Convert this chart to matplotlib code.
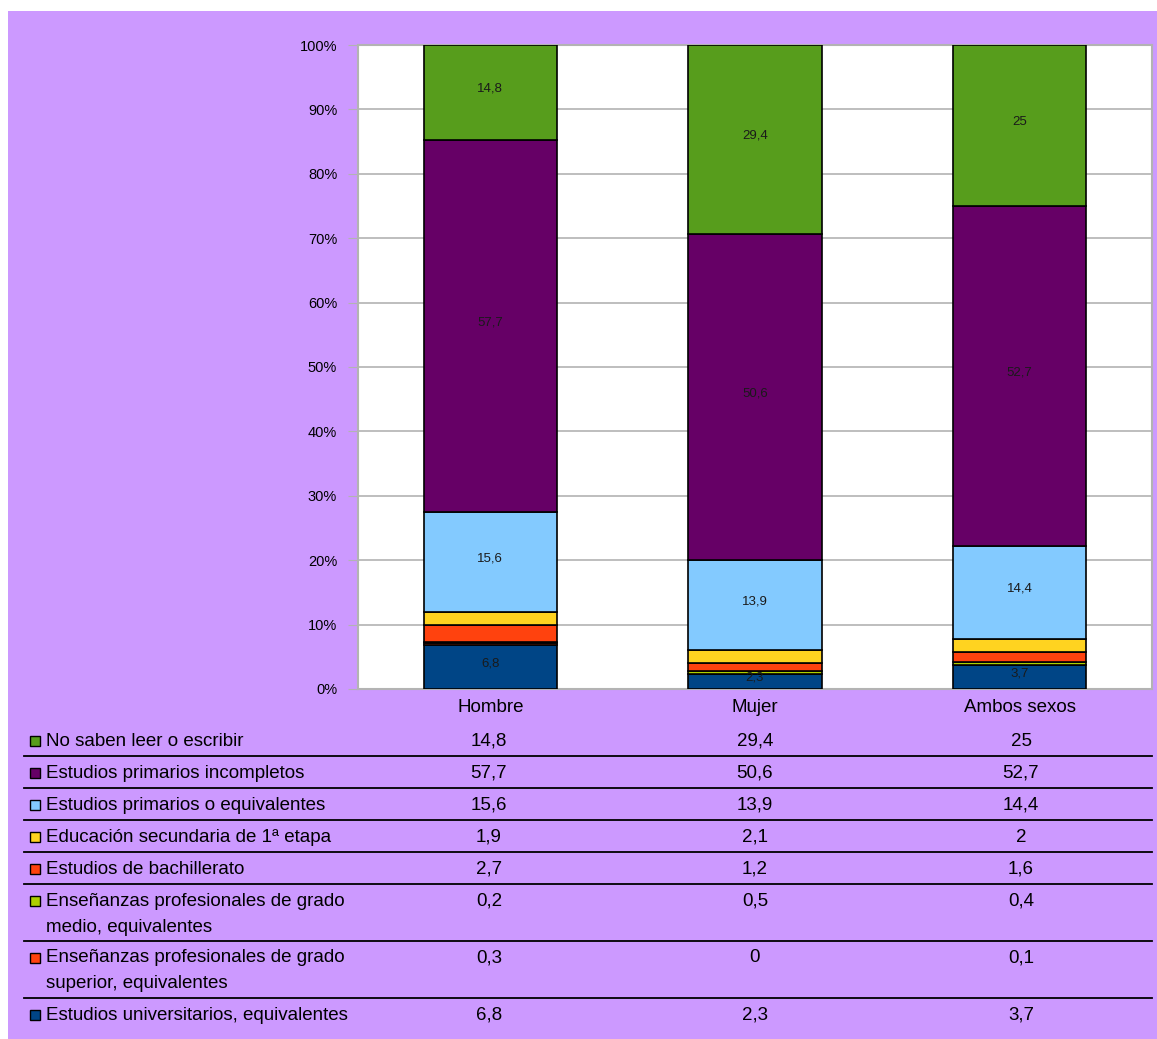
import matplotlib
matplotlib.use("Agg")
import matplotlib.pyplot as plt
from matplotlib.patches import Rectangle
from matplotlib.lines import Line2D

# ----------------------------------------------------------------------
CATEGORIES = ["Hombre", "Mujer", "Ambos sexos"]

# table order (top -> bottom); bars stack in reverse order
SERIES = [
    "No saben leer o escribir",
    "Estudios primarios incompletos",
    "Estudios primarios o equivalentes",
    "Educación secundaria de 1ª etapa",
    "Estudios de bachillerato",
    "Enseñanzas profesionales de grado\nmedio, equivalentes",
    "Enseñanzas profesionales de grado\nsuperior, equivalentes",
    "Estudios universitarios, equivalentes",
]
no_saben = [14.8, 29.4, 25]
incompletos = [57.7, 50.6, 52.7]
primarios = [15.6, 13.9, 14.4]
secundaria = [1.9, 2.1, 2]
bachillerato = [2.7, 1.2, 1.6]
grado_medio = [0.2, 0.5, 0.4]
grado_superior = [0.3, 0, 0.1]
universitarios = [6.8, 2.3, 3.7]
VALUES = [no_saben, incompletos, primarios, secundaria, bachillerato,
          grado_medio, grado_superior, universitarios]
SHOW_LABEL = [True, True, True, False, False, False, False, True]

COLORS = ["#579d1c", "#660066", "#83caff", "#ffd320", "#ff420e",
          "#aecf00", "#ff420e", "#004586"]
BG = "#cc99ff"
GRID = "#b3b3b3"

plt.rcParams.update({"font.family": ["Liberation Sans", "DejaVu Sans"]})

W, H = 1157, 1039


def fx(x):
    return x / W


def fy(y):
    return 1 - y / H


def fmt(v):
    return f"{v:g}".replace(".", ",")


fig = plt.figure(figsize=(W / 100, H / 100), dpi=100, facecolor="white")
fig.patches.append(Rectangle((fx(8), fy(1039)), fx(1157 - 8), (1039 - 11) / H,
                             transform=fig.transFigure, fc=BG, ec="none",
                             zorder=-10))

# ---- stacked 100% bars ----
ax = fig.add_axes([fx(358), fy(689), fx(1152 - 358), (689 - 45) / H])
ax.set_zorder(5)
ax.set_facecolor("white")
totals = [sum(v[i] for v in VALUES) for i in range(len(CATEGORIES))]
xs = range(len(CATEGORIES))
bottom = [0.0] * len(CATEGORIES)
for name, vals, col, show in reversed(list(zip(SERIES, VALUES, COLORS,
                                               SHOW_LABEL))):
    pct = [v / t * 100 for v, t in zip(vals, totals)]
    ax.bar(xs, pct, bottom=bottom, width=0.505, color=col,
           edgecolor="black", linewidth=1.2, zorder=3)
    if show:
        for x, b, p, v in zip(xs, bottom, pct, vals):
            ax.text(x, b + p / 2 + 0.6, fmt(v), ha="center", va="center",
                    fontsize=9.5, color="#1a1a1a", zorder=4)
    bottom = [b + p for b, p in zip(bottom, pct)]

ax.set_xlim(-0.5, 2.5)
ax.set_ylim(0, 100)
ax.set_yticks(range(0, 101, 10))
ax.set_yticklabels([f"{t}%" for t in range(0, 101, 10)], fontsize=10.5)
ax.set_xticks(list(xs))
ax.set_xticklabels(CATEGORIES, fontsize=13.5)
ax.tick_params(axis="y", length=7, color=GRID, pad=8)
ax.tick_params(axis="x", length=0, pad=7)
ax.yaxis.grid(True, color=GRID, linewidth=1.2, zorder=0)
ax.set_axisbelow(True)
for s in ax.spines.values():
    s.set_color(GRID)
    s.set_linewidth(1.5)

# ---- data table with legend keys ----
row_h = [32, 32, 32, 32, 32, 57, 57, 40]
top = 724
for name, vals, col, h in zip(SERIES, VALUES, COLORS, row_h):
    yc = top + 17
    fig.patches.append(Rectangle((fx(30), fy(yc + 5)), fx(10), 10 / H,
                                 transform=fig.transFigure, fc=col,
                                 ec="black", lw=1.0))
    for k, line in enumerate(name.split("\n")):
        fig.text(fx(46), fy(yc + 26 * k), line, ha="left", va="center",
                 fontsize=13.5, color="black")
    for x, v in zip([489, 755, 1021], vals):
        fig.text(fx(x), fy(yc), fmt(v), ha="center", va="center",
                 fontsize=13.5, color="black")
    top += h
    if top < 1020:
        fig.lines.append(Line2D([fx(24), fx(1152)], [fy(top), fy(top)],
                                transform=fig.transFigure, color="black",
                                lw=1.3))

fig.savefig("out.png", dpi=100, facecolor=fig.get_facecolor())
plt.close(fig)
